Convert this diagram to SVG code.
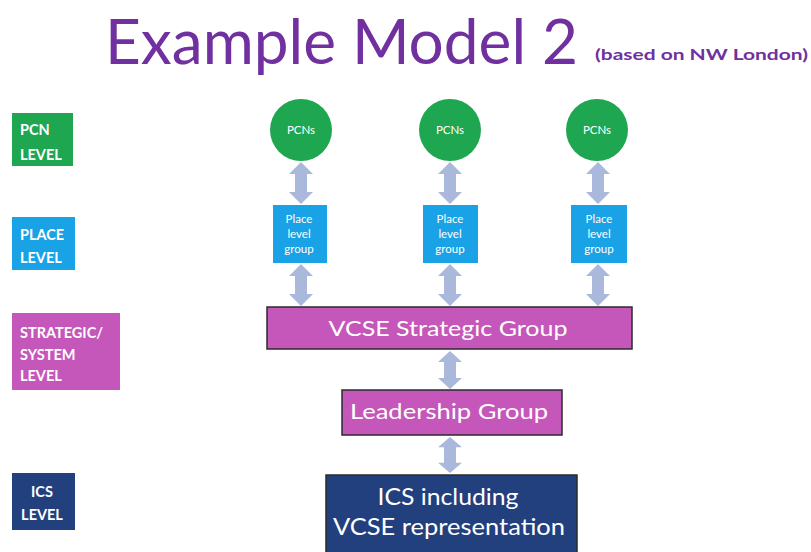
<svg xmlns="http://www.w3.org/2000/svg" width="811" height="552" viewBox="0 0 811 552">
<defs>
<style>
text{font-family:Lato,"Open Sans","Liberation Sans",sans-serif}
.title{fill:#7030A0}
.lbl{fill:#fff;font-weight:700;font-size:14.5px}
.w{fill:#fff}
.pl{fill:#fff;font-size:11.5px;text-anchor:middle}
.arrow{fill:#AAB8DC}
.green{fill:#1FA650}
.blue{fill:#1AA2E6}
.mag{fill:#C657BA}
.navy{fill:#223F7E}
.box{stroke:#2b2b2b;stroke-width:1.5}
</style>
<path id="arr" d="M0,-21 L12,-9 L6,-9 L6,9 L12,9 L0,21 L-12,9 L-6,9 L-6,-9 L-12,-9 Z"/>
</defs>
<rect width="811" height="552" fill="#fff"/>
<g id="title">
<text class="title" x="105" y="64" font-size="62" textLength="473" lengthAdjust="spacingAndGlyphs">Example Model 2</text>
<text class="title" x="595" y="60" font-size="16" font-weight="700" textLength="213" lengthAdjust="spacingAndGlyphs">(based on NW London)</text>
</g>
<g id="label-pcn">
<rect class="green" x="12" y="113" width="61" height="53"/>
<text class="lbl" x="20" y="135">PCN</text>
<text class="lbl" x="20" y="160">LEVEL</text>
</g>
<g id="label-place">
<rect class="blue" x="12" y="217" width="63" height="53"/>
<text class="lbl" x="20" y="240">PLACE</text>
<text class="lbl" x="20" y="263">LEVEL</text>
</g>
<g id="label-strategic">
<rect class="mag" x="12" y="313" width="108" height="77"/>
<text class="lbl" x="20" y="338">STRATEGIC/</text>
<text class="lbl" x="20" y="360">SYSTEM</text>
<text class="lbl" x="20" y="381">LEVEL</text>
</g>
<g id="label-ics">
<rect class="navy" x="12" y="473" width="63" height="57"/>
<text class="lbl" x="42" y="497" text-anchor="middle">ICS</text>
<text class="lbl" x="42" y="520" text-anchor="middle">LEVEL</text>
</g>
<g id="connectors">
<use href="#arr" class="arrow" transform="translate(301,183)"/>
<use href="#arr" class="arrow" transform="translate(450,183)"/>
<use href="#arr" class="arrow" transform="translate(598,183)"/>
<use href="#arr" class="arrow" transform="translate(301,285)"/>
<use href="#arr" class="arrow" transform="translate(450,285)"/>
<use href="#arr" class="arrow" transform="translate(598,285)"/>
<use href="#arr" class="arrow" transform="translate(450,370) scale(1,0.9)"/>
<use href="#arr" class="arrow" transform="translate(450,455) scale(1,0.86)"/>
</g>
<g id="pcn1"><circle class="green" cx="301" cy="130" r="31"/><text class="pl" x="301" y="134">PCNs</text></g>
<g id="pcn2"><circle class="green" cx="450" cy="130" r="31"/><text class="pl" x="450" y="134">PCNs</text></g>
<g id="pcn3"><circle class="green" cx="597" cy="130" r="31"/><text class="pl" x="597" y="134">PCNs</text></g>
<g id="place1"><rect class="blue" x="273" y="205" width="54" height="58"/><text class="pl" x="299" y="223">Place</text><text class="pl" x="299" y="238">level</text><text class="pl" x="299" y="253">group</text></g>
<g id="place2"><rect class="blue" x="423" y="205" width="55" height="58"/><text class="pl" x="450" y="223">Place</text><text class="pl" x="450" y="238">level</text><text class="pl" x="450" y="253">group</text></g>
<g id="place3"><rect class="blue" x="571" y="205" width="56" height="58"/><text class="pl" x="599" y="223">Place</text><text class="pl" x="599" y="238">level</text><text class="pl" x="599" y="253">group</text></g>
<g id="vcse-strategic">
<rect class="mag box" x="267" y="307" width="365" height="42"/>
<text class="w" x="448" y="336" font-size="22" text-anchor="middle" textLength="239" lengthAdjust="spacingAndGlyphs">VCSE Strategic Group</text>
</g>
<g id="leadership">
<rect class="mag box" x="342" y="390" width="220" height="45"/>
<text class="w" x="449" y="419" font-size="22" text-anchor="middle" textLength="198" lengthAdjust="spacingAndGlyphs">Leadership Group</text>
</g>
<g id="ics">
<rect class="navy box" x="326" y="475" width="251" height="80"/>
<text class="w" x="448" y="505" font-size="24" text-anchor="middle" textLength="141" lengthAdjust="spacingAndGlyphs">ICS including</text>
<text class="w" x="449" y="535" font-size="24" text-anchor="middle" textLength="232" lengthAdjust="spacingAndGlyphs">VCSE representation</text>
</g>
</svg>
